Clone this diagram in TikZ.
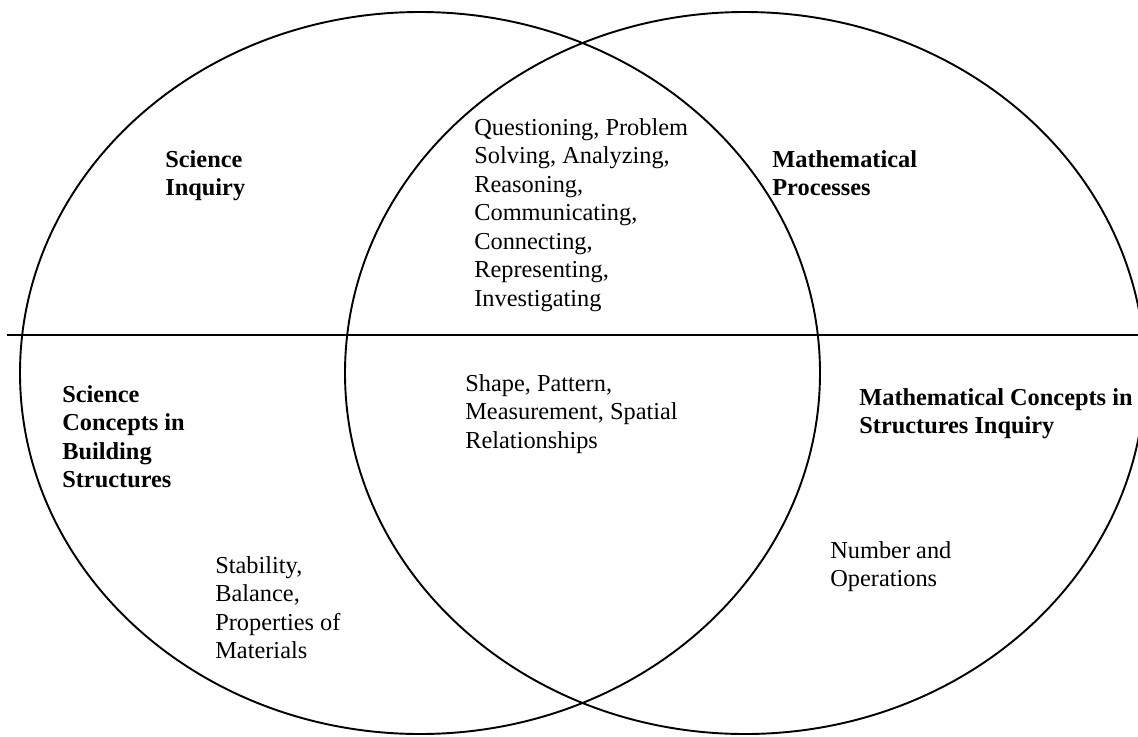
\documentclass[tikz,border=0pt]{standalone}
\usepackage{fontspec}
\setmainfont{Liberation Serif}
\begin{document}
\begin{tikzpicture}[x=0.575pt,y=-0.575pt,
    txt/.style={anchor=north west,align=left,inner sep=0pt,font=\fontsize{14}{16.4}\selectfont},
    head/.style={txt,font=\fontsize{14}{16.4}\selectfont\bfseries}]
    \useasboundingbox (0,0) rectangle (1138,736);
    \clip (0,0) rectangle (1138,736);
    % the two circles and the divide
    \draw[line width=1.1pt] (420,373) ellipse [x radius=400, y radius=361];
    \draw[line width=1.1pt] (745,373) ellipse [x radius=400, y radius=361];
    \coordinate (lineL) at (7,335);
    \coordinate (lineR) at (1138,335);
    \draw[line width=1.1pt] (lineL) -- (lineR);
    % upper half
    \node[head] (sciinq) at (165,150) {Science\\Inquiry};
    \node[txt] (process) at (474,118) {Questioning, Problem\\Solving, Analyzing,\\Reasoning,\\Communicating,\\Connecting,\\Representing,\\Investigating};
    \node[head] (mathproc) at (772,150) {Mathematical\\Processes};
    % lower half
    \node[head] (scicon) at (62,385) {Science\\Concepts in\\Building\\Structures};
    \node[txt] (shape) at (465,374) {Shape, Pattern,\\Measurement, Spatial\\Relationships};
    \node[head] (mathcon) at (859,388) {Mathematical Concepts in\\Structures Inquiry};
    \node[txt] (stab) at (215,556) {Stability,\\Balance,\\Properties of\\Materials};
    \node[txt] (number) at (830,541) {Number and\\Operations};
\end{tikzpicture}
\end{document}
